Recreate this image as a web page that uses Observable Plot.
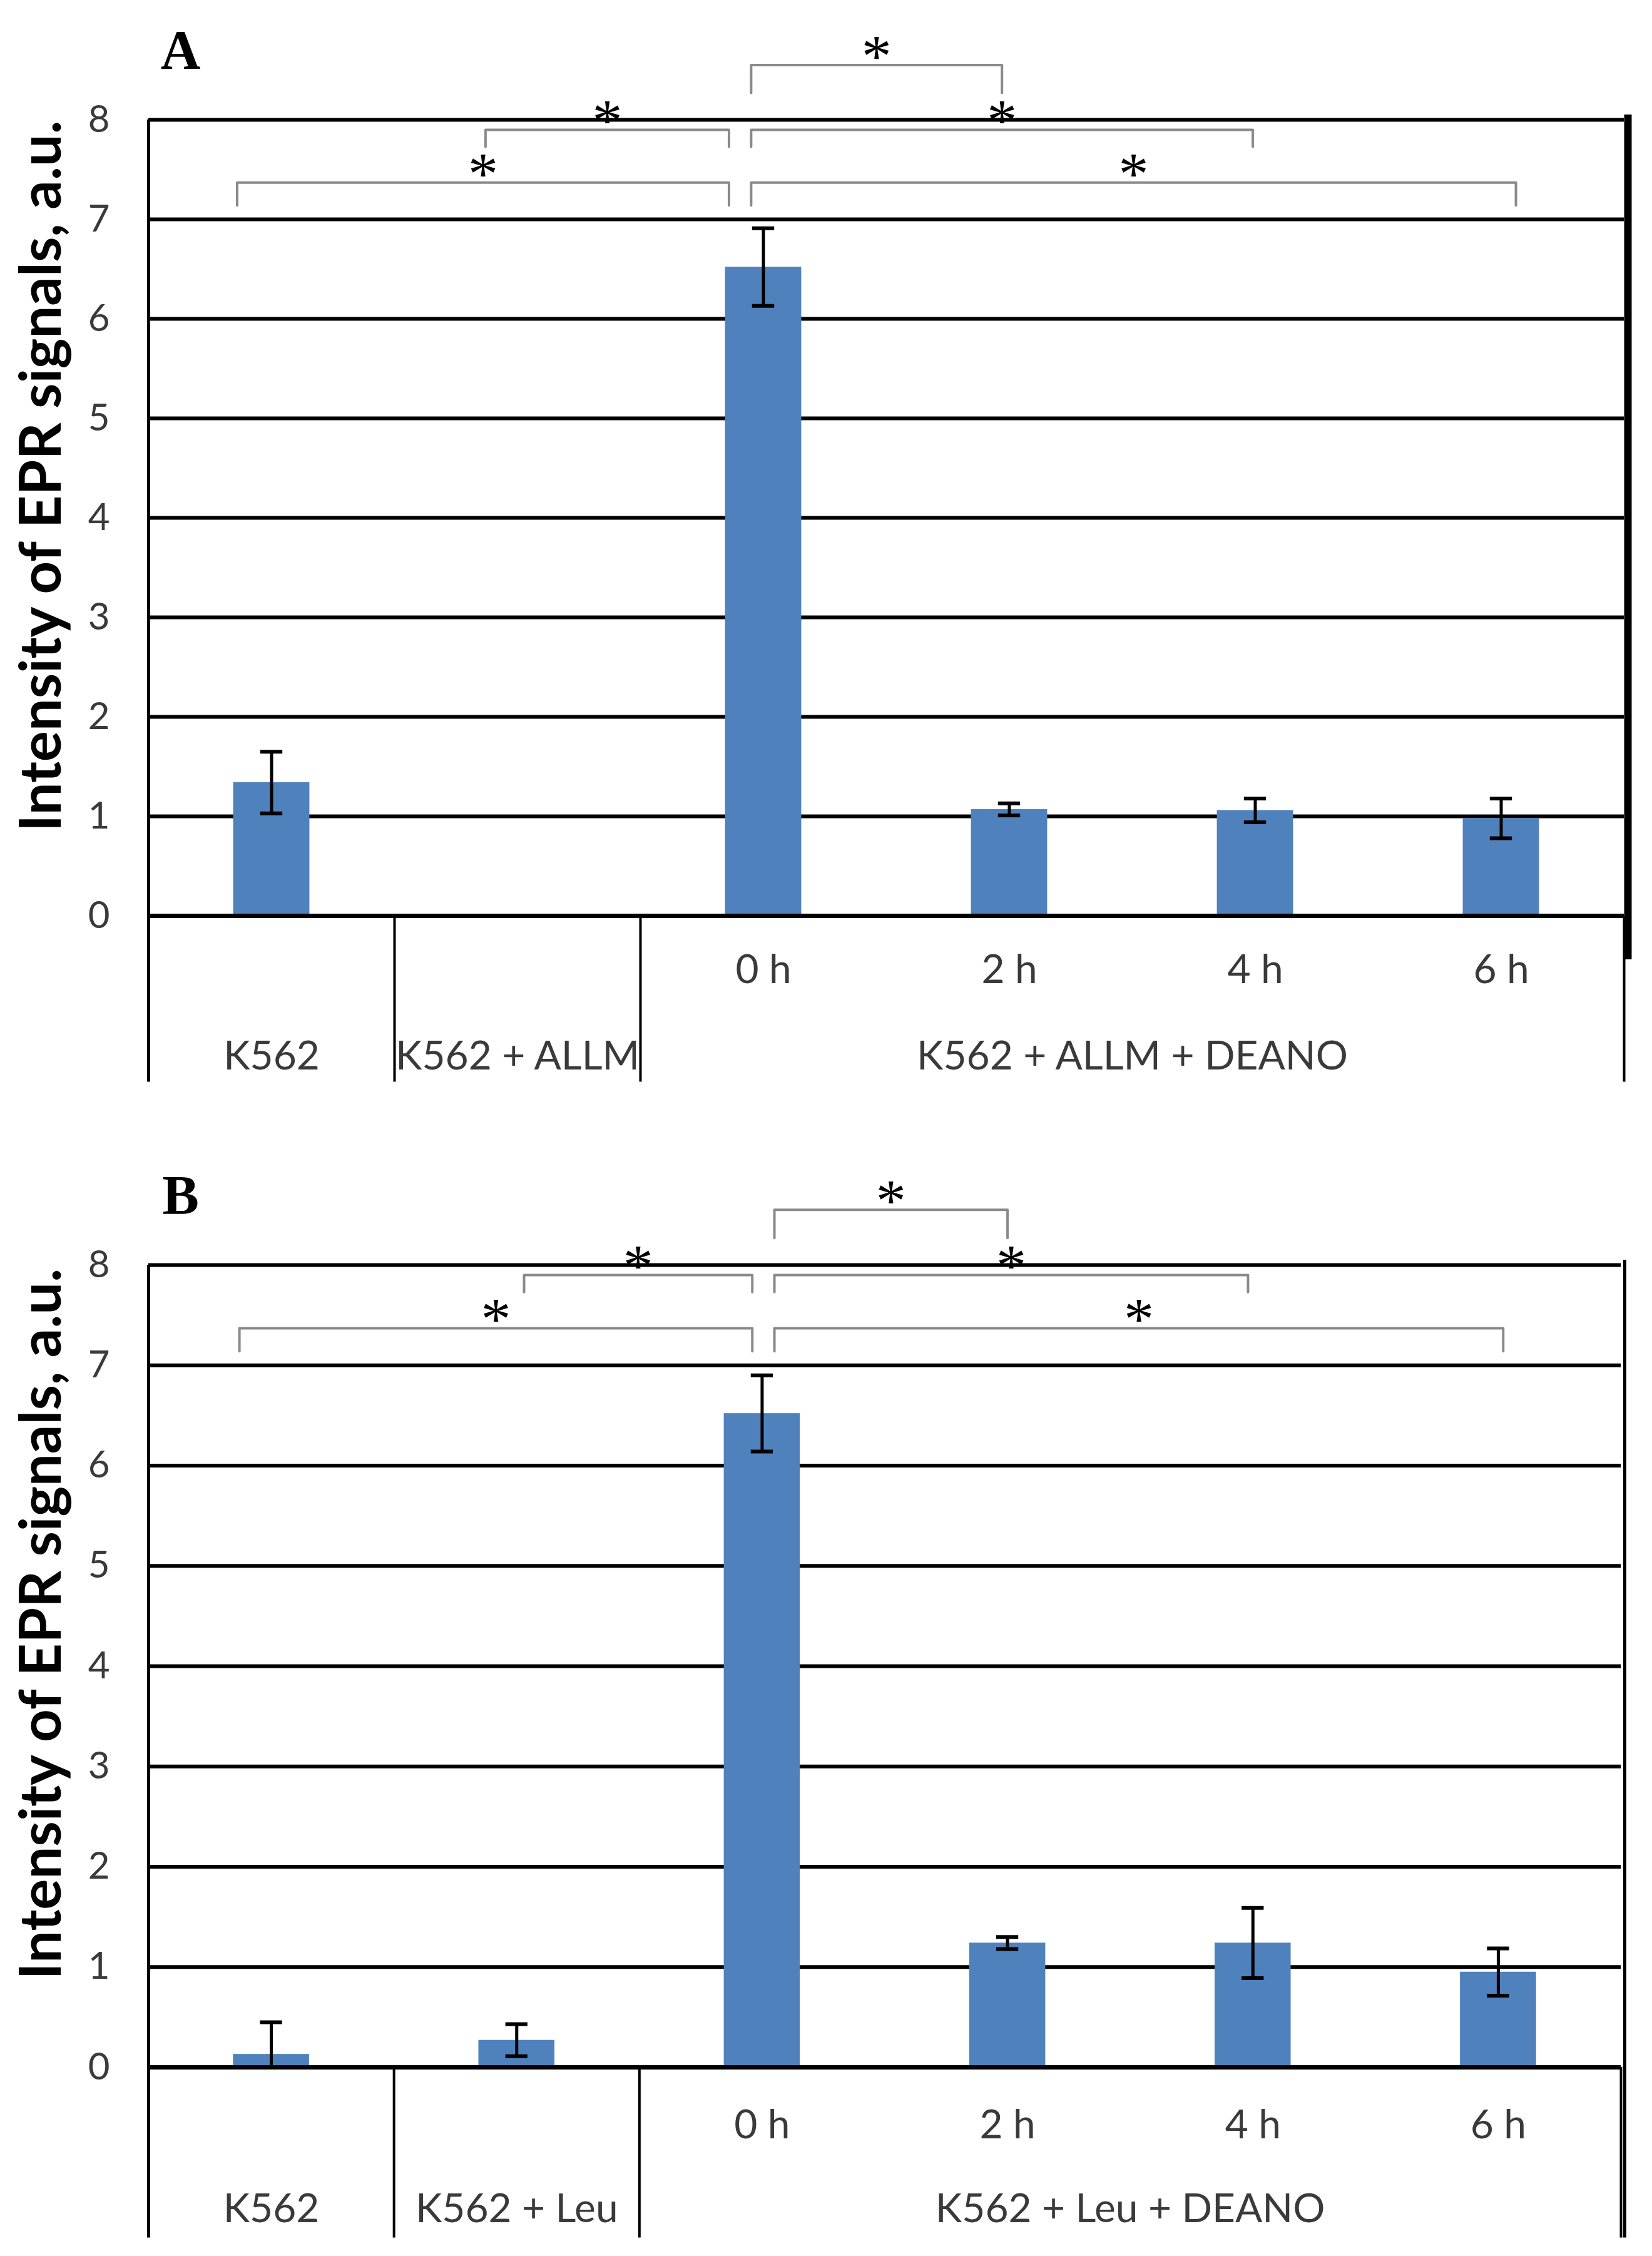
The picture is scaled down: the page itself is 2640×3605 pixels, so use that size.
<!DOCTYPE html>
<html>
<head>
<meta charset="utf-8">
<script src="https://cdn.jsdelivr.net/npm/d3@7"></script>
<script src="https://cdn.jsdelivr.net/npm/@observablehq/plot@0.6"></script>
<style>
  html, body { margin: 0; padding: 0; background: #fff; }
  svg { display: block; }
</style>
</head>
<body>
<div id="chart"></div>
<script>
// ---------- DATA ----------
const subLabels = ["", "", "0 h", "2 h", "4 h", "6 h"];
const groupLabelsA = ["K562", "K562 + ALLM", "K562 + ALLM + DEANO"];
const groupLabelsB = ["K562", "K562 + Leu", "K562 + Leu + DEANO"];
const valuesA = [1.34, 0, 6.52, 1.07, 1.06, 0.98];
const errorsA = [0.31, 0, 0.39, 0.06, 0.12, 0.20];
const valuesB = [0.13, 0.27, 6.52, 1.24, 1.24, 0.95];
const errorsB = [0.32, 0.16, 0.38, 0.06, 0.35, 0.235];
const yTicks = [0, 1, 2, 3, 4, 5, 6, 7, 8];
// significance brackets: [from category index, to category index, row (1 = lowest)]
const bracketsA = [[0, 2, 1], [2, 5, 1], [1, 2, 2], [2, 4, 2], [2, 3, 3]];
const bracketsB = [[0, 2, 1], [2, 5, 1], [1, 2, 2], [2, 4, 2], [2, 3, 3]];
const starLabel = "*";
const panelLetters = ["A", "B"];
const yTitle = "Intensity of EPR signals, a.u.";

// ---------- LAYOUT ----------
const rowLevel = {1: 7.37, 2: 7.90, 3: 8.55};
const rowDrop = {1: 0.23, 2: 0.17, 3: 0.28};
const groupCenters = [0.5, 1.5, 4];

function panel(cfg) {
  const {values, errors, groups, brackets, letter, height, marginBottom, marginRight,
         farNudge, hubLeft, hubRight, tableBottom, rightTop, subPad, groupPad} = cfg;
  const data = values.map((v, i) => ({i, c: i + 0.5, v, e: errors[i]}));
  const err = data.filter(d => d.e > 0);
  const hub = 2;
  const pos = (idx, side) => idx === hub ? idx + 0.5 + (side === "left" ? hubLeft : hubRight) : idx + 0.5 + farNudge[idx];
  const bpts = [];
  const stars = [];
  brackets.forEach(([a, b, row], k) => {
    const lvl = rowLevel[row], drop = rowDrop[row];
    const xa = a === hub ? pos(a, "right") : pos(a);
    const xb = b === hub ? pos(b, "left") : pos(b);
    bpts.push({id: k, x: xa, y: lvl - drop}, {id: k, x: xa, y: lvl}, {id: k, x: xb, y: lvl}, {id: k, x: xb, y: lvl - drop});
    stars.push({x: (xa + xb) / 2, y: lvl + 0.08});
  });
  return Plot.plot({
    width: 2640,
    height,
    marginTop: 191,
    marginLeft: 237,
    marginRight,
    marginBottom,
    x: {domain: [0, 6], axis: null},
    y: {domain: [0, 8], axis: null},
    style: {fontFamily: "Lato, sans-serif", fontSize: "60px", color: "#3a3a3a", background: "#fff"},
    marks: [
      // horizontal gridlines (1..8)
      Plot.ruleY(yTicks.filter(t => t > 0), {stroke: "#000", strokeWidth: 6}),
      // bars
      Plot.rectY(data.filter(d => d.v > 0), {x1: d => d.c - 0.155, x2: d => d.c + 0.155, y1: 0, y2: "v", fill: "#4F81BD"}),
      // zero line
      Plot.ruleY([0], {stroke: "#000", strokeWidth: 7}),
      // left axis line and table separators
      Plot.ruleX([0], {y1: tableBottom, y2: 8, stroke: "#000", strokeWidth: 5}),
      Plot.ruleX([1, 2, 6], {y1: tableBottom, y2: 0, stroke: "#000", strokeWidth: 4}),
      Plot.ruleX([6], {y1: rightTop, y2: 8.05, dx: 6, stroke: "#000", strokeWidth: cfg.rightWidth}),
      // error bars
      Plot.ruleX(err, {x: "c", y1: d => Math.max(0, d.v - d.e), y2: d => d.v + d.e, stroke: "#000", strokeWidth: 5}),
      Plot.ruleY(err, {x1: d => d.c - 0.045, x2: d => d.c + 0.045, y: d => d.v + d.e, stroke: "#000", strokeWidth: 6}),
      Plot.ruleY(err.filter(d => d.v - d.e > 0), {x1: d => d.c - 0.045, x2: d => d.c + 0.045, y: d => d.v - d.e, stroke: "#000", strokeWidth: 6}),
      // brackets and stars
      Plot.line(bpts, {x: "x", y: "y", z: "id", stroke: "#8a8a8a", strokeWidth: 4}),
      Plot.text(stars, {x: "x", y: "y", text: () => starLabel, fontFamily: "Liberation Serif, serif", fontSize: 96, fill: "#000", lineAnchor: "middle"}),
      // y axis tick labels
      Plot.axisY(yTicks, {tickSize: 0, tickPadding: 62, fontSize: 60, label: null, fill: "#3a3a3a", tickFormat: d => String(d)}),
      // category labels
      Plot.axisX([2.5, 3.5, 4.5, 5.5], {tickSize: 0, tickPadding: subPad, fontSize: 64, label: null, fill: "#3a3a3a",
        tickFormat: d => subLabels[Math.floor(d)]}),
      Plot.axisX(groupCenters, {tickSize: 0, tickPadding: groupPad, fontSize: 64, label: null, fill: "#3a3a3a",
        tickFormat: d => groups[groupCenters.indexOf(d)]}),
      // y title
      Plot.text([yTitle], {frameAnchor: "left", y: 4.42, dx: -170, rotate: -90, fontSize: 92, fontWeight: "bold",
        fontFamily: "Lato, sans-serif", fill: "#000", textAnchor: "middle", lineAnchor: "middle"}),
      // panel letter
      Plot.text([letter], {frameAnchor: "top-left", dx: 51, dy: -111, textAnchor: "middle", lineAnchor: "middle",
        fontFamily: "Liberation Serif, serif", fontWeight: "bold", fontSize: 88, fill: "#000"})
    ]
  });
}

const chart = document.getElementById("chart");
chart.append(panel({
  values: valuesA, errors: errorsA, groups: groupLabelsA, brackets: bracketsA, letter: panelLetters[0],
  height: 1830, marginBottom: 367, marginRight: 45,
  farNudge: [-0.14, -0.13, 0, -0.03, -0.01, 0.06], hubLeft: -0.14, hubRight: -0.05,
  tableBottom: -1.67, rightTop: -0.44, rightWidth: 12, subPad: 62, groupPad: 200
}));
chart.append(panel({
  values: valuesB, errors: errorsB, groups: groupLabelsB, brackets: bracketsB, letter: panelLetters[1],
  height: 1775, marginBottom: 302, marginRight: 50,
  farNudge: [-0.13, 0.03, 0, 0, -0.02, 0.02], hubLeft: -0.04, hubRight: 0.05,
  tableBottom: -1.70, rightTop: -1.70, rightWidth: 5, subPad: 68, groupPad: 202
}));
</script>
</body>
</html>
